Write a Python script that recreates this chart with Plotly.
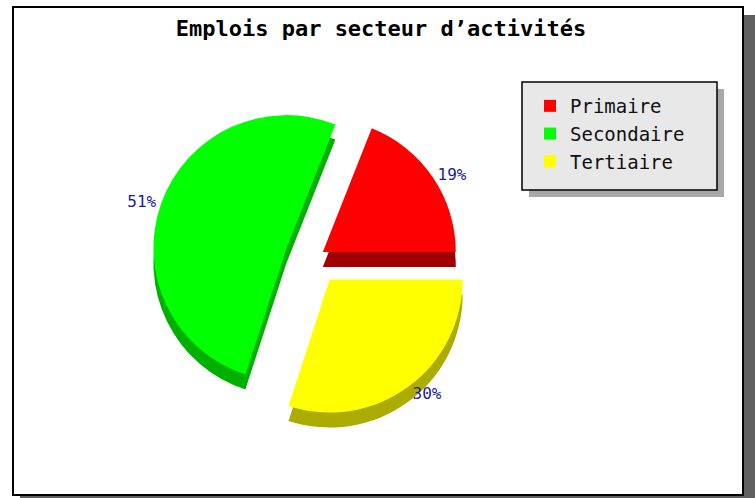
import plotly.graph_objects as go

W, H = 755, 498

categories = ["Primaire", "Secondaire", "Tertiaire"]
values = [19, 51, 30]
colors = ["#ff0000", "#00ff00", "#ffff00"]
side_colors = ["#a00000", "#00b000", "#acac00"]
pulls = [0.08, 0.22, 0.2]
title_text = "Emplois par secteur d’activités"

def px(x):
    return x / W

def py(y):
    return 1 - y / H

# first slice starts at 3 o'clock and runs counterclockwise
rot = 90 - values[0] / sum(values) * 360

# pie geometry (pixels)
cx, cy, r = 314, 258, 133
half = r * (1 + max(pulls))
depth = 15

dom_top = dict(x=[px(cx - half), px(cx + half)], y=[py(cy + half), py(cy - half)])
dom_side = dict(x=[px(cx - half), px(cx + half)], y=[py(cy + half + depth), py(cy - half + depth)])

fig = go.Figure()
fig.add_trace(go.Pie(
    labels=categories, values=values, sort=False, direction="counterclockwise",
    rotation=rot, pull=pulls, domain=dom_side, showlegend=False,
    marker=dict(colors=side_colors, line=dict(width=0)),
    textinfo="none", hoverinfo="skip",
))
fig.add_trace(go.Pie(
    labels=categories, values=values, sort=False, direction="counterclockwise",
    rotation=rot, pull=pulls, domain=dom_top,
    marker=dict(colors=colors, line=dict(width=0)),
    texttemplate="%{percent:.0%}", textposition="outside",
    outsidetextfont=dict(family="DejaVu Sans Mono", size=16, color="#1c1c9c"),
))

shapes = [
    # outer frame shadow
    dict(type="rect", xref="paper", yref="paper", x0=px(743), x1=px(755), y0=py(498), y1=py(15),
         fillcolor="#606060", line=dict(width=0), layer="below"),
    dict(type="rect", xref="paper", yref="paper", x0=px(20), x1=px(755), y0=py(498), y1=py(495),
         fillcolor="#606060", line=dict(width=0), layer="below"),
    # outer frame
    dict(type="rect", xref="paper", yref="paper", x0=px(13), x1=px(743), y0=py(495), y1=py(7),
         fillcolor="white", line=dict(color="black", width=2), layer="below"),
    # legend shadow and box
    dict(type="rect", xref="paper", yref="paper", x0=px(529), x1=px(724), y0=py(197), y1=py(89),
         fillcolor="#a8a8a8", line=dict(width=0), layer="above"),
    dict(type="rect", xref="paper", yref="paper", x0=px(522), x1=px(717), y0=py(190), y1=py(82),
         fillcolor="#e8e8e8", line=dict(color="black", width=1.5), layer="above"),
]

fig.update_layout(
    width=W, height=H, margin=dict(l=0, r=0, t=0, b=0),
    paper_bgcolor="white", plot_bgcolor="white",
    title=dict(text="<b>" + title_text + "</b>", x=px(381), xanchor="center", y=py(28), yanchor="middle",
               font=dict(family="DejaVu Sans Mono", size=22, color="black")),
    legend=dict(x=px(530), y=py(87), xanchor="left", yanchor="top",
                bgcolor="rgba(0,0,0,0)", borderwidth=0,
                font=dict(family="DejaVu Sans Mono", size=19, color="#111111"),
                traceorder="normal"),
    shapes=shapes,
)
fig.write_html("out.html", config={"displayModeBar": False},
               post_script="document.body.style.margin='0';document.body.style.padding='0';")
